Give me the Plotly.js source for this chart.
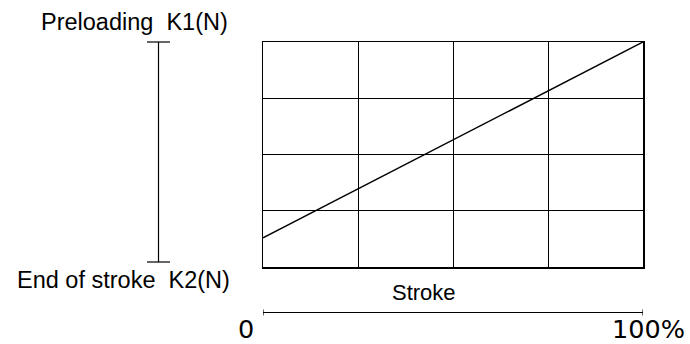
<!DOCTYPE html>
<html>
<head>
<meta charset="utf-8">
<script src="https://cdn.plot.ly/plotly-3.0.1.min.js"></script>
<style>html,body{margin:0;padding:0;background:#fff;}#chart{width:690px;height:344px;}</style>
</head>
<body>
<div id="chart"></div>
<script>
// Data
const strokePct = [0, 100];
const forceLevel = [0.52, 4];
const xGridTicks = [0, 25, 50, 75, 100];
const yGridTicks = [0, 1, 2, 3, 4];
const labelTop = "Preloading\u00A0\u00A0K1(N)";
const labelBottom = "End of stroke\u00A0\u00A0K2(N)";
const labelStroke = "Stroke";
const strokeStart = "0";
const strokeEnd = "100%";

const W = 380, H = 225, L = 263, T = 42;
const px = v => (v - L) / W;
const py = v => (T + H - v) / H;

const mainFont = {family: "Liberation Sans, Arial, sans-serif", size: 23.5, color: "#000"};
const strokeFont = {family: "Liberation Sans, Arial, sans-serif", size: 22, color: "#000"};
const numFont = {family: "DejaVu Sans, sans-serif", size: 25.5, color: "#000"};

const trace = {
  x: strokePct, y: forceLevel, type: "scatter", mode: "lines",
  line: {color: "#000", width: 1.5}, hoverinfo: "skip", showlegend: false
};

const blk = {color: "#000", width: 1.2};
const shapes = [
  // left force bar
  {type: "line", xref: "paper", yref: "paper", x0: px(158.5), x1: px(158.5), y0: py(42), y1: py(262), line: blk},
  {type: "line", xref: "paper", yref: "paper", x0: px(147), x1: px(170), y0: py(42), y1: py(42), line: blk},
  {type: "line", xref: "paper", yref: "paper", x0: px(147), x1: px(170), y0: py(262), y1: py(262), line: blk},
  // stroke axis
  {type: "line", xref: "x", yref: "paper", x0: strokePct[0], x1: strokePct[1], y0: py(312.5), y1: py(312.5), line: blk},
  {type: "line", xref: "x", yref: "paper", x0: strokePct[0], x1: strokePct[0], y0: py(309.5), y1: py(315.5), line: blk},
  {type: "line", xref: "x", yref: "paper", x0: strokePct[1], x1: strokePct[1], y0: py(309.5), y1: py(315.5), line: blk}
];

const annotations = [
  {text: labelTop, xref: "paper", yref: "paper", x: px(134.5), y: py(22), xanchor: "center", yanchor: "middle", showarrow: false, font: mainFont},
  {text: labelBottom, xref: "paper", yref: "paper", x: px(123), y: py(279.5), xanchor: "center", yanchor: "middle", showarrow: false, font: mainFont},
  {text: labelStroke, xref: "paper", yref: "paper", x: px(423.5), y: py(292), xanchor: "center", yanchor: "middle", showarrow: false, font: strokeFont},
  {text: strokeStart, xref: "paper", yref: "paper", x: px(246), y: py(329), xanchor: "center", yanchor: "middle", showarrow: false, font: numFont},
  {text: strokeEnd, xref: "paper", yref: "paper", x: px(648.5), y: py(329), xanchor: "center", yanchor: "middle", showarrow: false, font: numFont}
];

const layout = {
  width: 690, height: 344,
  margin: {l: L, r: 690 - L - W, t: T, b: 344 - T - H, pad: 0},
  paper_bgcolor: "#fff", plot_bgcolor: "#fff",
  xaxis: {range: [0, 100], tickvals: xGridTicks, showticklabels: false, ticks: "",
    showgrid: true, gridcolor: "#000", gridwidth: 1, zeroline: false,
    showline: true, mirror: true, linecolor: "#000", linewidth: 1.5, fixedrange: true},
  yaxis: {range: [0, 4], tickvals: yGridTicks, showticklabels: false, ticks: "",
    showgrid: true, gridcolor: "#000", gridwidth: 1, zeroline: false,
    showline: true, mirror: true, linecolor: "#000", linewidth: 1.5, fixedrange: true},
  shapes: shapes,
  annotations: annotations,
  showlegend: false
};

Plotly.newPlot("chart", [trace], layout, {staticPlot: true, displayModeBar: false});
</script>
</body>
</html>
